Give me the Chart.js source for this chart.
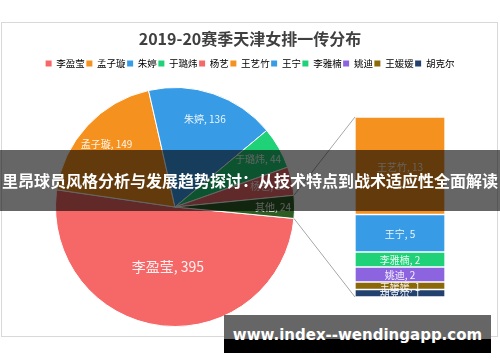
<!DOCTYPE html>
<html>
<head>
<meta charset="utf-8">
<script src="https://cdn.jsdelivr.net/npm/chart.js@4.4.0/dist/chart.umd.min.js"></script>
<style>
    body { margin: 0; background: #fff; }
    #wrap { position: relative; width: 500px; height: 362px; overflow: hidden; font-family: "Noto Sans CJK SC", sans-serif; }
    #frame { position: absolute; left: 1px; top: 22px; width: 497px; height: 315px; border: 1px solid #d9d9d9; box-sizing: border-box; }
    canvas { position: absolute; left: 0; top: 0; }
    #banner { position: absolute; left: 0; top: 150px; width: 500px; height: 61px; background: rgba(0, 0, 0, 0.6);
        color: #fff; font-weight: bold; font-size: 16px; line-height: 61px; text-align: center; white-space: nowrap; }
    #mark { position: absolute; left: 224px; top: 315px; width: 267px; height: 38px;
        background: linear-gradient(#666 0, #666 24px, #000 24px, #000 100%);
        color: #fff; font-family: "DejaVu Sans", sans-serif; font-weight: bold; font-size: 15px; line-height: 40px; text-align: center; }
</style>
</head>
<body>
<div id="wrap">
    <div id="frame"></div>
    <canvas id="bar" width="500" height="362"></canvas>
    <canvas id="pie" width="500" height="362"></canvas>
    <div id="banner">里昂球员风格分析与发展趋势探讨：从技术特点到战术适应性全面解读</div>
    <div id="mark">www.index--wendingapp.com</div>
</div>
<script>
// pie slices (the last one is split out into the bar)
var pieLabels = ['李盈莹', '孟子璇', '朱婷', '于璐炜', '杨艺', '其他'];
var pieValues = [395, 149, 136, 44, 30, 24];
// bar part, top to bottom
var barLabels = ['王艺竹', '王宁', '李雅楠', '姚迪', '王媛媛', '胡克尔'];
var barValues = [13, 5, 2, 2, 1, 1];
// legend order
var legendNames = ['李盈莹', '孟子璇', '朱婷', '于璐炜', '杨艺', '王艺竹', '王宁', '李雅楠', '姚迪', '王媛媛', '胡克尔'];

var pieColors = ['#f66767', '#f5921f', '#379be6', '#1fd278', '#f26a6a', '#2e5d24'];
var barColors = ['#f5921f', '#379be6', '#1fd278', '#8c64e0', '#8b690a', '#23416e'];
var legendColors = ['#f66767', '#f5921f', '#379be6', '#1fd278', '#f26a6a', '#f5921f', '#379be6', '#1fd278', '#8c64e0', '#8b690a', '#23416e'];

var cjk = '"Noto Sans CJK SC", sans-serif';

// labels inside bar segments
var segLabels = {
    id: 'segLabels',
    afterDatasetsDraw: function (chart) {
        var ctx = chart.ctx;
        ctx.save();
        ctx.fillStyle = 'rgba(255,255,255,0.9)';
        ctx.font = '10px ' + cjk;
        ctx.textAlign = 'center';
        ctx.textBaseline = 'middle';
        chart.data.datasets.forEach(function (ds, i) {
            var el = chart.getDatasetMeta(i).data[0];
            ctx.fillText(ds.label + ', ' + ds.data[0], el.x, (el.y + el.base) / 2 + 1);
        });
        ctx.restore();
    }
};

// bottom of the stack first
var barSets = [];
for (var i = barLabels.length - 1; i >= 0; i--) {
    barSets.push({
        label: barLabels[i],
        data: [barValues[i]],
        backgroundColor: barColors[i],
        borderColor: '#fff',
        borderWidth: 1,
        borderSkipped: false,
        barPercentage: 1,
        categoryPercentage: 1
    });
}
var barTotal = barValues.reduce(function (a, b) { return a + b; }, 0);

var barChart = new Chart(document.getElementById('bar'), {
    type: 'bar',
    data: { labels: ['其他'], datasets: barSets },
    options: {
        responsive: false,
        animation: false,
        layout: { padding: { left: 355, right: 55, top: 117, bottom: 65 } },
        scales: {
            x: { stacked: true, display: false },
            y: { stacked: true, display: false, min: 0, max: barTotal }
        },
        plugins: { legend: { display: false }, tooltip: { enabled: false } }
    },
    plugins: [segLabels]
});

// put the pie left of the bar, under title and legend
var placePie = {
    id: 'placePie',
    afterLayout: function (chart) {
        var a = chart.chartArea;
        a.left = 55; a.right = 295; a.top = 87; a.bottom = 327;
        a.width = 240; a.height = 240;
    }
};

var labelDist = [0.5, 0.78, 0.78, 0.8, 0.8, 0.82];

var pieLabelsPlugin = {
    id: 'pieLabels',
    afterDatasetsDraw: function (chart) {
        var ctx = chart.ctx;
        var arcs = chart.getDatasetMeta(0).data;
        ctx.save();
        ctx.fillStyle = 'rgba(255,255,255,0.9)';
        ctx.textAlign = 'center';
        ctx.textBaseline = 'middle';
        arcs.forEach(function (arc, i) {
            var p = arc.getProps(['x', 'y', 'startAngle', 'endAngle', 'outerRadius'], true);
            var mid = (p.startAngle + p.endAngle) / 2;
            var r = p.outerRadius * labelDist[i];
            ctx.font = (i === 0 ? '14px ' : '10px ') + cjk;
            ctx.fillText(pieLabels[i] + ', ' + pieValues[i], p.x + Math.cos(mid) * r, p.y + Math.sin(mid) * r);
        });
        ctx.restore();
    }
};

// lines from the split slice to the bar
var connectors = {
    id: 'connectors',
    afterDraw: function (chart) {
        var ctx = chart.ctx;
        var arc = chart.getDatasetMeta(0).data[pieValues.length - 1];
        var p = arc.getProps(['x', 'y', 'startAngle', 'endAngle', 'outerRadius'], true);
        var metaBottom = barChart.getDatasetMeta(0).data[0];
        var metaTop = barChart.getDatasetMeta(barSets.length - 1).data[0];
        var left = metaTop.x - metaTop.width / 2;
        ctx.save();
        ctx.strokeStyle = '#a6a6a6';
        ctx.lineWidth = 1;
        ctx.beginPath();
        ctx.moveTo(p.x + Math.cos(p.startAngle) * p.outerRadius, p.y + Math.sin(p.startAngle) * p.outerRadius);
        ctx.lineTo(left, metaTop.y);
        ctx.moveTo(p.x + Math.cos(p.endAngle) * p.outerRadius, p.y + Math.sin(p.endAngle) * p.outerRadius);
        ctx.lineTo(left, metaBottom.base);
        ctx.stroke();
        ctx.restore();
    }
};

var pieChart = new Chart(document.getElementById('pie'), {
    type: 'pie',
    data: {
        labels: pieLabels,
        datasets: [{ data: pieValues, backgroundColor: pieColors, borderColor: '#fff', borderWidth: 1 }]
    },
    options: {
        responsive: false,
        animation: false,
        rotation: 95.5,
        plugins: {
            title: {
                display: true,
                text: '2019-20赛季天津女排一传分布',
                color: '#404040',
                font: { family: cjk, size: 16, weight: 'bold' },
                padding: { top: 29, bottom: 9 }
            },
            legend: {
                display: true,
                labels: {
                    boxWidth: 6,
                    boxHeight: 6,
                    padding: 1.5,
                    color: '#595959',
                    font: { family: cjk, size: 9.5 },
                    generateLabels: function () {
                        return legendNames.map(function (n, i) {
                            return { text: n, fillStyle: legendColors[i], strokeStyle: legendColors[i], lineWidth: 0, hidden: false, index: i };
                        });
                    }
                }
            },
            tooltip: { enabled: false }
        }
    },
    plugins: [placePie, pieLabelsPlugin, connectors]
});
</script>
</body>
</html>
